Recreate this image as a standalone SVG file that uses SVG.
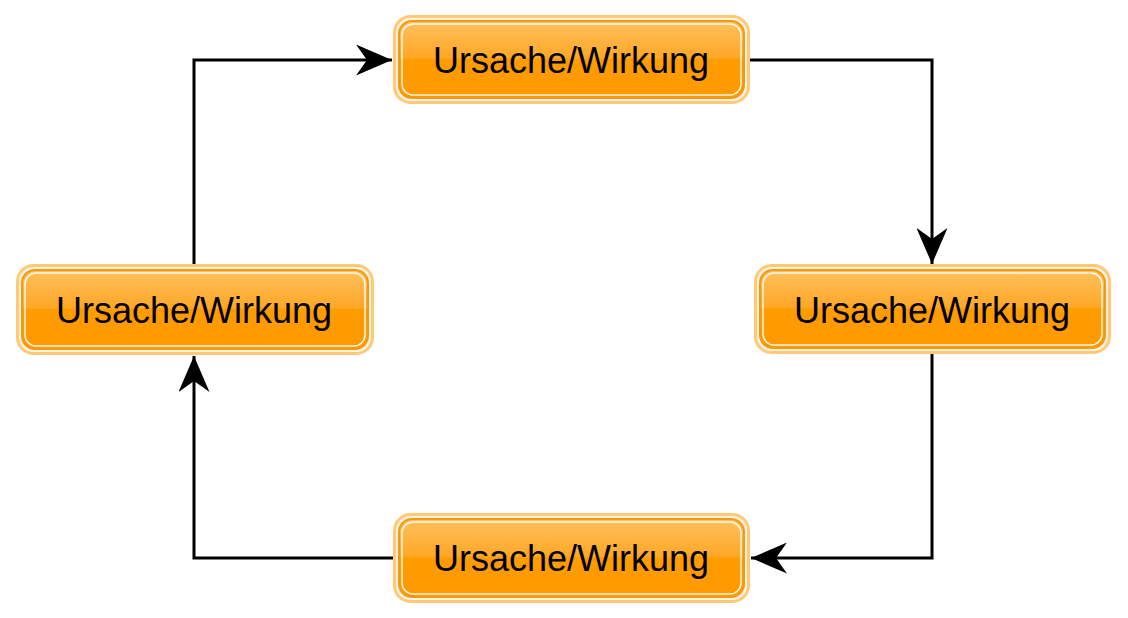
<svg xmlns="http://www.w3.org/2000/svg" width="1128" height="618" viewBox="0 0 1128 618">
<style>
.outer{fill:#FFF3E0;stroke:#FFC978;stroke-width:3}
.body{fill:url(#g);stroke:#F59A10;stroke-width:2}
.hl{fill:none;stroke:#FFFFFF;stroke-width:1.5;opacity:0.9}
.lbl{font-family:"Liberation Sans",Arial,sans-serif;font-size:36px;fill:#000;text-anchor:middle;dominant-baseline:central}
.edge{fill:none;stroke:#000;stroke-width:3}
</style>
<defs>
<linearGradient id="g" x1="0" y1="0" x2="0" y2="1">
<stop offset="0" stop-color="#FFC15E"/>
<stop offset="0.48" stop-color="#FFA726"/>
<stop offset="0.5" stop-color="#FF9C00"/>
<stop offset="1" stop-color="#FF9900"/>
</linearGradient>
<marker id="arr" viewBox="0 0 36 31" refX="36" refY="15.5" markerWidth="36" markerHeight="31" markerUnits="userSpaceOnUse" orient="auto">
<path d="M36,15.5 L0,0 L11,15.5 L0,31 Z" fill="#000"/>
</marker>
</defs>
<g id="connectors">
<path class="edge" d="M194,265 L194,60 L392,60" marker-end="url(#arr)"/>
<path class="edge" d="M750,60 L932,60 L932,264" marker-end="url(#arr)"/>
<path class="edge" d="M932,353 L932,558 L751,558" marker-end="url(#arr)"/>
<path class="edge" d="M393,558 L194,558 L194,356" marker-end="url(#arr)"/>
</g>
<g id="node-top">
<rect class="outer" x="394.5" y="16.5" width="354" height="86" rx="16"/>
<rect class="body" x="399" y="21" width="345" height="77" rx="13"/>
<rect class="hl" x="402" y="24" width="339" height="71" rx="11"/>
<text class="lbl" x="571" y="60">Ursache/Wirkung</text>
</g>
<g id="node-right">
<rect class="outer" x="755.5" y="265.5" width="354" height="87" rx="16"/>
<rect class="body" x="760" y="270" width="345" height="78" rx="13"/>
<rect class="hl" x="763" y="273" width="339" height="72" rx="11"/>
<text class="lbl" x="932" y="310">Ursache/Wirkung</text>
</g>
<g id="node-left">
<rect class="outer" x="17.5" y="265.5" width="355" height="88" rx="16"/>
<rect class="body" x="22" y="270" width="346" height="79" rx="13"/>
<rect class="hl" x="25" y="273" width="340" height="73" rx="11"/>
<text class="lbl" x="194" y="310">Ursache/Wirkung</text>
</g>
<g id="node-bottom">
<rect class="outer" x="394.5" y="514.5" width="354" height="87" rx="16"/>
<rect class="body" x="399" y="519" width="345" height="78" rx="13"/>
<rect class="hl" x="402" y="522" width="339" height="72" rx="11"/>
<text class="lbl" x="571" y="558">Ursache/Wirkung</text>
</g>
</svg>
